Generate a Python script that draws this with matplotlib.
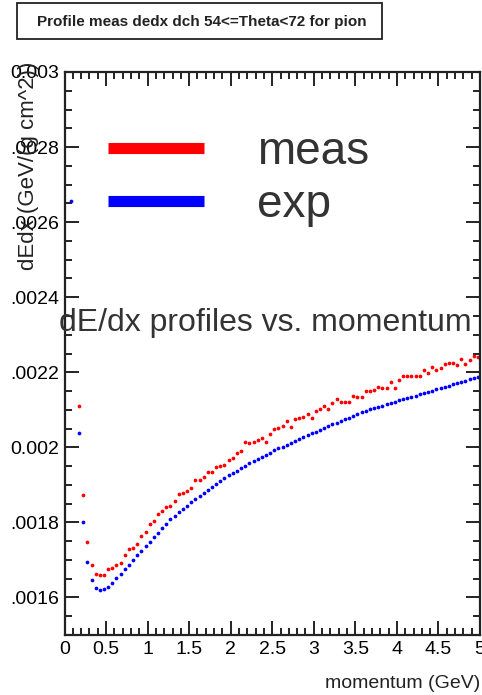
import numpy as np
import matplotlib
matplotlib.use("Agg")
import matplotlib.pyplot as plt
from matplotlib.ticker import MultipleLocator, FixedLocator
from matplotlib.patches import Rectangle

plt.rcParams['font.family'] = ['Liberation Sans', 'DejaVu Sans']

title = "Profile meas dedx dch 54<=Theta<72 for pion"

# bin centres 0.175 .. 4.975 GeV (bin width 0.05)
momentum = np.round(0.025 + 0.05 * np.arange(3, 100), 3)

meas = [
    0.002111, 0.001873, 0.001748, 0.001686, 0.001662, 0.001660, 0.001660, 0.001675,
    0.001678, 0.001687, 0.001693, 0.001713, 0.001730, 0.001733, 0.001743, 0.001764,
    0.001775, 0.001797, 0.001805, 0.001822, 0.001831, 0.001841, 0.001844, 0.001857,
    0.001875, 0.001879, 0.001884, 0.001891, 0.001913, 0.001913, 0.001920, 0.001933,
    0.001935, 0.001948, 0.001951, 0.001953, 0.001967, 0.001971, 0.001986, 0.001989,
    0.002013, 0.002012, 0.002013, 0.002019, 0.002025, 0.002015, 0.002035, 0.002049,
    0.002051, 0.002057, 0.002069, 0.002055, 0.002075, 0.002078, 0.002081, 0.002089,
    0.002079, 0.002097, 0.002102, 0.002111, 0.002102, 0.002117, 0.002129, 0.002122,
    0.002122, 0.002122, 0.002137, 0.002133, 0.002133, 0.002151, 0.002149, 0.002153,
    0.002161, 0.002159, 0.002158, 0.002175, 0.002159, 0.002179, 0.002190, 0.002190,
    0.002190, 0.002190, 0.002190, 0.002206, 0.002197, 0.002213, 0.002206, 0.002211,
    0.002222, 0.002224, 0.002226, 0.002220, 0.002235, 0.002222, 0.002233, 0.002244,
    0.002240,
]

exp_first_p = [0.075]
exp_first = [0.002657]
exp_vals = [
    0.002037, 0.001800, 0.001695, 0.001646, 0.001626, 0.001619, 0.001622, 0.001628,
    0.001638, 0.001651, 0.001663, 0.001675, 0.001687, 0.001699, 0.001713, 0.001724,
    0.001737, 0.001749, 0.001761, 0.001773, 0.001785, 0.001797, 0.001808, 0.001818,
    0.001828, 0.001837, 0.001845, 0.001854, 0.001862, 0.001870, 0.001879, 0.001887,
    0.001895, 0.001903, 0.001910, 0.001918, 0.001925, 0.001932, 0.001938, 0.001945,
    0.001951, 0.001957, 0.001963, 0.001969, 0.001975, 0.001980, 0.001986, 0.001992,
    0.001997, 0.002002, 0.002007, 0.002012, 0.002017, 0.002022, 0.002027, 0.002032,
    0.002037, 0.002042, 0.002046, 0.002051, 0.002056, 0.002061, 0.002066, 0.002070,
    0.002075, 0.002079, 0.002084, 0.002088, 0.002093, 0.002097, 0.002101, 0.002104,
    0.002108, 0.002111, 0.002115, 0.002118, 0.002121, 0.002125, 0.002128, 0.002131,
    0.002135, 0.002138, 0.002141, 0.002145, 0.002148, 0.002151, 0.002155, 0.002158,
    0.002161, 0.002164, 0.002168, 0.002171, 0.002174, 0.002178, 0.002181, 0.002184,
    0.002188,
]

ytick_vals = [0.0016, 0.0018, 0.002, 0.0022, 0.0024, 0.0026, 0.0028, 0.003]
ytick_labels = [".0016", ".0018", "0.002", ".0022", ".0024", ".0026", ".0028", "0.003"]
xtick_vals = [0, 0.5, 1, 1.5, 2, 2.5, 3, 3.5, 4, 4.5, 5]
xtick_labels = ["0", "0.5", "1", "1.5", "2", "2.5", "3", "3.5", "4", "4.5", "5"]

W, H = 482, 695
fig = plt.figure(figsize=(W / 100, H / 100), dpi=100)
ax = fig.add_axes([64.5 / W, 1 - 635 / H, (480 - 64.5) / W, (635 - 72) / H])

ax.plot(momentum, meas, ls="none", marker="o", ms=2.7, mew=0, color="#ff0000")
ax.plot(exp_first_p + list(momentum), exp_first + exp_vals, ls="none", marker="o",
        ms=2.7, mew=0, color="#0000ff")

ax.set_xlim(0, 5)
ax.set_ylim(0.0015, 0.003)
ax.xaxis.set_major_locator(FixedLocator(xtick_vals))
ax.xaxis.set_minor_locator(MultipleLocator(0.1))
ax.yaxis.set_major_locator(FixedLocator(ytick_vals))
ax.yaxis.set_minor_locator(MultipleLocator(0.00005))
ax.set_xticklabels(xtick_labels)
ax.set_yticklabels(ytick_labels)
ax.tick_params(which="both", direction="in", top=True, right=True, width=1.4,
               labelsize=14, color="#222222")
ax.tick_params(which="major", length=10, pad=4)
ax.tick_params(which="minor", length=5)
for s in ax.spines.values():
    s.set_linewidth(1.6)
    s.set_color("#222222")

fig.text(480 / W, 1 - 683 / H, "momentum (GeV)", ha="right", va="center",
         fontsize=14, color="#222222")
fig.text(29 / W, 1 - 62 / H, "dEdx (GeV/(g cm^2))", rotation=90, ha="center",
         va="top", fontsize=16, color="#222222")

# legend
h1, = ax.plot([], [], color="#ff0000", lw=8, solid_capstyle="butt")
h2, = ax.plot([], [], color="#0000ff", lw=8, solid_capstyle="butt")
leg = ax.legend([h1, h2], ["meas", "exp"], loc="upper left",
                bbox_to_anchor=(108 / W, 1 - 130 / H), bbox_transform=fig.transFigure,
                frameon=False, fontsize=33, handlelength=2.1, handletextpad=1.15,
                labelspacing=0.2, borderpad=0, borderaxespad=0)
for t in leg.get_texts():
    t.set_color("#333333")
fig.text(265 / W, 1 - 323 / H, "dE/dx profiles vs. momentum", ha="center",
         va="center", fontsize=23, color="#333333")

# title box
fig.patches.append(Rectangle((17 / W, 1 - 39 / H), (382 - 17) / W, 36 / H,
                             transform=fig.transFigure, fc="white", ec="#222222", lw=1.3))
fig.text(202 / W, 1 - 22 / H, title, ha="center", va="center", fontsize=11,
         fontweight="bold", color="#222222")

fig.savefig("out.png", dpi=100)
